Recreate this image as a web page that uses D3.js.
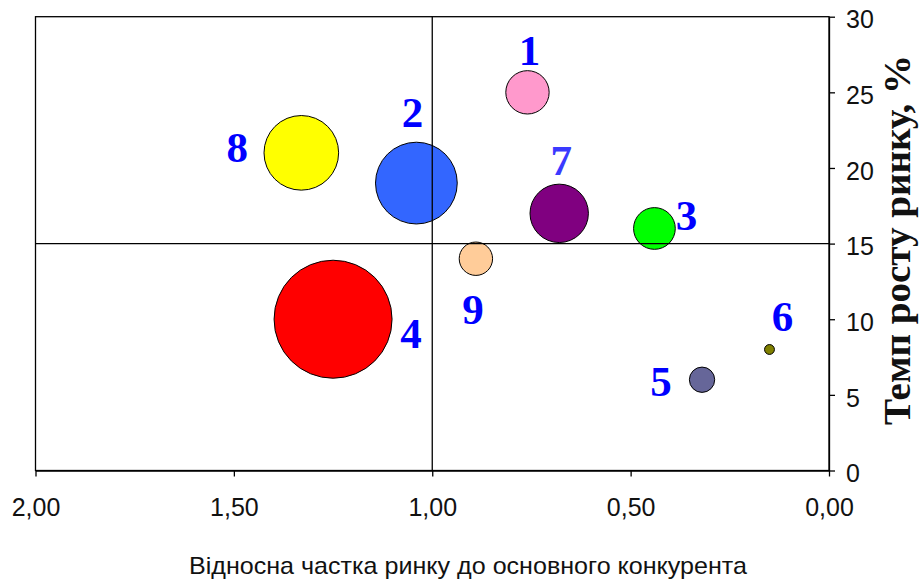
<!DOCTYPE html>
<html>
<head>
<meta charset="utf-8">
<script src="https://cdn.jsdelivr.net/npm/d3@7"></script>
<style>
  html, body { margin: 0; padding: 0; background: #ffffff; }
  svg { display: block; }
</style>
</head>
<body>
<svg id="chart" width="921" height="581"></svg>
<script>
// ---- data ----
const labels = ["1", "2", "3", "4", "5", "6", "7", "8", "9"];
const relShare = [0.76, 1.04, 0.44, 1.25, 0.32, 0.15, 0.68, 1.33, 0.89];   // x
const growth = [25, 19, 16, 10, 6, 8, 17, 21, 14];                          // y, %
const bubbleSize = [13.5, 48, 12.5, 100, 4.6, 0.7, 24.5, 40, 8];
const colors = ["#FF99CC", "#3366FF", "#00FF00", "#FF0000", "#666699", "#808000", "#800080", "#FFFF00", "#FFCC99"];
const xTicks = [2.0, 1.5, 1.0, 0.5, 0.0];
const yTicks = [0, 5, 10, 15, 20, 25, 30];
const xTitle = "Відносна частка ринку до основного конкурента";
const yTitle = "Темп росту ринку, %";
const xDivider = 1.0;
const yDivider = 15;
// label placement relative to bubble centre (layout only)
const labelOffset = [[2, -27], [-4, -56], [32, 2], [78, 29], [-41, 16], [13, -18], [2, -38], [-64, 9], [-3, 65]];

// ---- layout ----
const pLeft = 35.5, pRight = 829, pTop = 16.7, pBottom = 470.5;
const svg = d3.select("#chart");

const x = d3.scaleLinear().domain([2, 0]).range([pLeft, pRight]);
const y = d3.scaleLinear().domain([0, 30]).range([pBottom, pTop]);
const r = d3.scaleSqrt().domain([0, d3.max(bubbleSize)]).range([0, 59]);

// plot frame
svg.append("rect")
  .attr("x", pLeft).attr("y", pTop)
  .attr("width", pRight - pLeft).attr("height", pBottom - pTop)
  .attr("fill", "#ffffff").attr("stroke", "#000").attr("stroke-width", 1.3);

// x axis (bottom)
const xAxis = svg.append("g")
  .attr("transform", `translate(0,${pBottom})`)
  .call(d3.axisBottom(x).tickValues(xTicks).tickSizeInner(6).tickSizeOuter(0)
    .tickPadding(22).tickFormat(d => d3.format(".2f")(d).replace(".", ",")));
xAxis.select(".domain").attr("stroke-width", 1.3);
xAxis.selectAll(".tick line").attr("stroke-width", 1.3);
xAxis.selectAll("text")
  .attr("font-family", "Arial, 'Liberation Sans', sans-serif")
  .attr("font-size", 25).attr("fill", "#111");

// y axis (right)
const yAxis = svg.append("g")
  .attr("transform", `translate(${pRight},0)`)
  .call(d3.axisRight(y).tickValues(yTicks).tickSizeInner(6).tickSizeOuter(0).tickPadding(11));
yAxis.select(".domain").attr("stroke-width", 1.3);
yAxis.selectAll(".tick line").attr("stroke-width", 1.3);
yAxis.selectAll("text")
  .attr("font-family", "Arial, 'Liberation Sans', sans-serif")
  .attr("font-size", 25).attr("fill", "#111").attr("dy", "0.45em");

// bubbles
const idx = d3.range(labels.length);
svg.append("g").selectAll("circle")
  .data(idx)
  .join("circle")
  .attr("cx", i => x(relShare[i]))
  .attr("cy", i => y(growth[i]))
  .attr("r", i => r(bubbleSize[i]))
  .attr("fill", i => colors[i])
  .attr("stroke", "#000").attr("stroke-width", 1);

// quadrant dividers (on top)
svg.append("line")
  .attr("x1", x(xDivider)).attr("x2", x(xDivider))
  .attr("y1", pTop).attr("y2", pBottom)
  .attr("stroke", "#000").attr("stroke-width", 1.3);
svg.append("line")
  .attr("x1", pLeft).attr("x2", pRight)
  .attr("y1", y(yDivider)).attr("y2", y(yDivider))
  .attr("stroke", "#000").attr("stroke-width", 1.3);

// bubble labels
svg.append("g").selectAll("text")
  .data(idx)
  .join("text")
  .attr("x", i => x(relShare[i]) + labelOffset[i][0])
  .attr("y", i => y(growth[i]) + labelOffset[i][1])
  .attr("text-anchor", "middle")
  .attr("font-family", "'Liberation Serif', 'Times New Roman', serif")
  .attr("font-weight", "bold")
  .attr("font-size", 43)
  .attr("fill", i => labels[i] === "7" ? "#3a3aff" : "#0000FF")
  .text(i => labels[i]);

// axis titles
svg.append("text")
  .attr("x", 468).attr("y", 574)
  .attr("text-anchor", "middle")
  .attr("font-family", "Arial, 'Liberation Sans', sans-serif")
  .attr("font-size", 24)
  .attr("fill", "#111")
  .attr("textLength", 558).attr("lengthAdjust", "spacingAndGlyphs")
  .text(xTitle);

svg.append("text")
  .attr("transform", "translate(910,240) rotate(-90)")
  .attr("text-anchor", "middle")
  .attr("font-family", "'Liberation Serif', 'Times New Roman', serif")
  .attr("font-weight", "bold")
  .attr("font-size", 38)
  .attr("fill", "#111")
  .attr("textLength", 370).attr("lengthAdjust", "spacingAndGlyphs")
  .text(yTitle);
</script>
</body>
</html>
